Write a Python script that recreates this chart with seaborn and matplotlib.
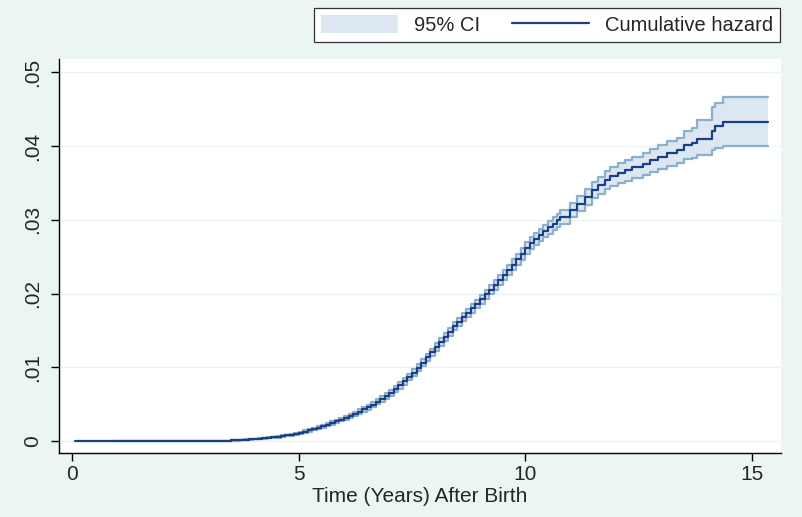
import numpy as np
import pandas as pd
import matplotlib
matplotlib.use("Agg")
import matplotlib.pyplot as plt
import seaborn as sns
from matplotlib.patches import Patch
from matplotlib.lines import Line2D

# step times (years after birth), Nelson-Aalen cumulative hazard and 95% CI
times = [0.07, 0.9, 3.0,
         3.5, 3.6, 3.7, 3.8, 3.9, 4.0, 4.1, 4.2, 4.3, 4.4, 4.5, 4.6, 4.7, 4.8, 4.9,
         5.0, 5.1, 5.2, 5.3, 5.4, 5.5, 5.6, 5.7, 5.8, 5.9, 6.0, 6.1, 6.2, 6.3, 6.4,
         6.5, 6.6, 6.7, 6.8, 6.9, 7.0, 7.1, 7.2, 7.3, 7.4, 7.5, 7.6, 7.7, 7.8, 7.9,
         8.0, 8.1, 8.2, 8.3, 8.4, 8.5, 8.6, 8.7, 8.8, 8.9, 9.0, 9.1, 9.2, 9.3, 9.4,
         9.5, 9.6, 9.7, 9.8, 9.9, 10.0, 10.1, 10.2, 10.3, 10.4, 10.5, 10.6, 10.7,
         10.77, 10.99, 11.13, 11.32, 11.46, 11.61, 11.76, 11.87, 12.05, 12.20, 12.35,
         12.60, 12.75, 12.93, 13.12, 13.34, 13.49, 13.67, 13.78, 14.11, 14.18, 14.37,
         15.36]

hazard = [0.0, 0.00002, 0.00005,
          0.00010, 0.00012, 0.00015, 0.00019, 0.00024, 0.00029, 0.00034, 0.00040, 0.00046,
          0.00053, 0.00060, 0.00068, 0.00078, 0.00089, 0.00101,
          0.00114, 0.00129, 0.00146, 0.00163, 0.00181, 0.00200, 0.00222, 0.00245, 0.00268,
          0.00292, 0.00318, 0.00345, 0.00372, 0.00400, 0.00430,
          0.00462, 0.00497, 0.00534, 0.00572, 0.00612, 0.00655, 0.00703, 0.00755, 0.00810,
          0.00868, 0.00930, 0.00996, 0.01065, 0.01135, 0.01205,
          0.01275, 0.01345, 0.01415, 0.01485, 0.01555, 0.01620, 0.01680, 0.01740, 0.01800,
          0.01860, 0.01925, 0.01990, 0.02055, 0.02120, 0.02185,
          0.02250, 0.02320, 0.02390, 0.02465, 0.02540, 0.02615, 0.02680, 0.02740, 0.02795,
          0.02850, 0.02900, 0.02950, 0.02995,
          0.0304, 0.0313, 0.0322, 0.0331, 0.0340, 0.0347, 0.0354, 0.0359, 0.0364, 0.0367,
          0.0371, 0.0376, 0.0381, 0.0385, 0.0390, 0.0394, 0.0401, 0.0404, 0.0410, 0.0421,
          0.0427, 0.0432,
          0.0432]

ci_lower = [np.nan, 0.00001, 0.00003,
            0.00006, 0.00008, 0.00010, 0.00014, 0.00018, 0.00023, 0.00027, 0.00032, 0.00038,
            0.00044, 0.00050, 0.00057, 0.00066, 0.00076, 0.00087,
            0.00099, 0.00113, 0.00129, 0.00145, 0.00162, 0.00180, 0.00201, 0.00223, 0.00245,
            0.00268, 0.00293, 0.00318, 0.00344, 0.00370, 0.00399,
            0.00429, 0.00463, 0.00499, 0.00535, 0.00574, 0.00615, 0.00662, 0.00713, 0.00767,
            0.00824, 0.00885, 0.00950, 0.01018, 0.01087, 0.01156,
            0.01225, 0.01294, 0.01363, 0.01432, 0.01501, 0.01565, 0.01624, 0.01683, 0.01742,
            0.01801, 0.01865, 0.01928, 0.01991, 0.02054, 0.02117,
            0.02180, 0.02248, 0.02316, 0.02389, 0.02462, 0.02535, 0.02599, 0.02658, 0.02711,
            0.02765, 0.02813, 0.02862, 0.02905,
            0.02948, 0.03035, 0.03120, 0.03205, 0.03290, 0.03355, 0.03420, 0.03465, 0.03505,
            0.03530, 0.03565, 0.03610, 0.03655, 0.03690, 0.03735, 0.03765, 0.03820, 0.03840,
            0.03880, 0.03940, 0.03970, 0.04000,
            0.04000]

ci_upper = [np.nan, 0.00004, 0.00008,
            0.00014, 0.00016, 0.00020, 0.00024, 0.00030, 0.00035, 0.00041, 0.00048, 0.00054,
            0.00062, 0.00070, 0.00079, 0.00090, 0.00102, 0.00115,
            0.00129, 0.00145, 0.00163, 0.00181, 0.00200, 0.00220, 0.00243, 0.00267, 0.00291,
            0.00316, 0.00343, 0.00372, 0.00400, 0.00430, 0.00461,
            0.00495, 0.00531, 0.00569, 0.00609, 0.00650, 0.00695, 0.00744, 0.00797, 0.00853,
            0.00912, 0.00975, 0.01042, 0.01112, 0.01183, 0.01254,
            0.01325, 0.01396, 0.01467, 0.01538, 0.01609, 0.01675, 0.01736, 0.01797, 0.01858,
            0.01919, 0.01985, 0.02052, 0.02119, 0.02186, 0.02253,
            0.02320, 0.02392, 0.02464, 0.02541, 0.02618, 0.02695, 0.02761, 0.02822, 0.02879,
            0.02935, 0.02987, 0.03038, 0.03085,
            0.03132, 0.03225, 0.03320, 0.03415, 0.03510, 0.03585, 0.03660, 0.03715, 0.03775,
            0.03810, 0.03855, 0.03910, 0.03965, 0.04010, 0.04065, 0.04115, 0.04200, 0.04240,
            0.04360, 0.04530, 0.04580, 0.04670,
            0.04670]

y_ticks = [0, 0.01, 0.02, 0.03, 0.04, 0.05]
y_tick_labels = ["0", ".01", ".02", ".03", ".04", ".05"]
x_ticks = [0, 5, 10, 15]

df = pd.DataFrame({"time": times, "hazard": hazard, "lo": ci_lower, "hi": ci_upper})

BG = "#EBF5F3"
NAVY = "#1B3F86"
CI_FILL = "#DDE7F1"
CI_EDGE = "#8AB0CC"

sns.set_style("ticks")
plt.rcParams["font.family"] = ["Liberation Sans", "DejaVu Sans"]

fig = plt.figure(figsize=(8.02, 5.17), dpi=100, facecolor=BG)
ax = fig.add_axes([59 / 802, 1 - 453 / 517, (781 - 59) / 802, (453 - 59) / 517])
ax.set_facecolor("white")

for y in y_ticks:
    ax.axhline(y, color=BG, lw=1.0, zorder=0)

ci = df.dropna()
ax.fill_between(ci["time"], ci["lo"], ci["hi"], step="post", color=CI_FILL, lw=0, zorder=1)
ax.step(ci["time"], ci["lo"], where="post", color=CI_EDGE, lw=1.6, zorder=2)
ax.step(ci["time"], ci["hi"], where="post", color=CI_EDGE, lw=1.6, zorder=2)
sns.lineplot(data=df, x="time", y="hazard", drawstyle="steps-post", color=NAVY,
             lw=1.6, ax=ax, zorder=3, estimator=None, sort=False)

ax.set_xlim(-0.287, 15.64)
ax.set_ylim(-0.0016, 0.0518)
ax.set_xticks(x_ticks)
ax.set_yticks(y_ticks)
ax.set_yticklabels(y_tick_labels, rotation=90, va="center")
ax.tick_params(axis="both", labelsize=15, length=6, width=1, color="black")
ax.tick_params(axis="x", pad=3)
ax.tick_params(axis="y", pad=6)
ax.set_xlabel("Time (Years) After Birth", fontsize=15, labelpad=2)
ax.set_ylabel("")
for side in ["top", "right"]:
    ax.spines[side].set_visible(False)
for side in ["left", "bottom"]:
    ax.spines[side].set_color("black")
    ax.spines[side].set_linewidth(1.0)

handles = [Patch(facecolor=CI_FILL, edgecolor="none"),
           Line2D([], [], color=NAVY, lw=1.6)]
leg = fig.legend(handles, ["95% CI", "Cumulative hazard"], ncol=2,
                 loc="upper right", bbox_to_anchor=(780 / 802, 1 - 8 / 517),
                 fontsize=14.5, frameon=True, fancybox=False, handlelength=3.8,
                 handleheight=1.0, handletextpad=0.8, columnspacing=1.6,
                 borderpad=0.35, borderaxespad=0)
leg.get_frame().set_edgecolor("#333333")
leg.get_frame().set_linewidth(0.9)
leg.get_frame().set_facecolor("white")
leg.get_frame().set_alpha(1)

fig.savefig("out.png", dpi=100, facecolor=BG)
